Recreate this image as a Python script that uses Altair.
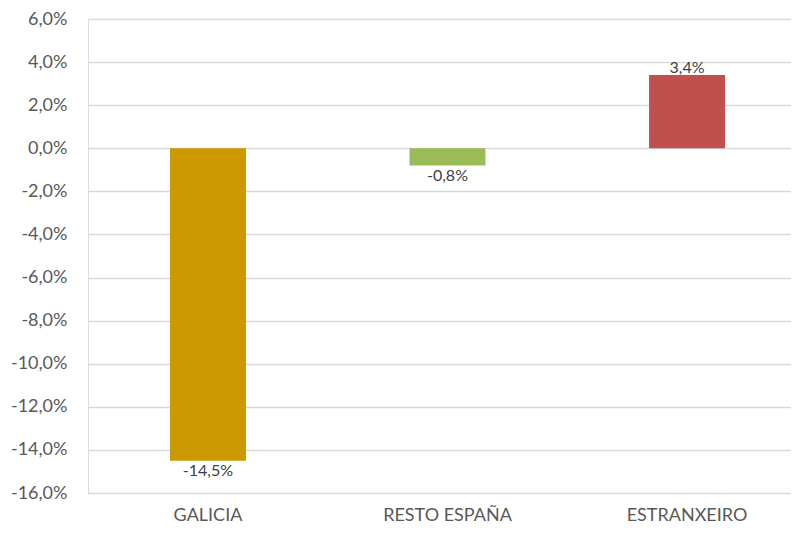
import altair as alt
import pandas as pd

categories = ["GALICIA", "RESTO ESPAÑA", "ESTRANXEIRO"]
values = [-0.145, -0.008, 0.034]
colors = ["#CC9900", "#9BBB59", "#C0504D"]
y_ticks = [-0.16, -0.14, -0.12, -0.10, -0.08, -0.06, -0.04, -0.02, 0, 0.02, 0.04, 0.06]

df = pd.DataFrame({"cat": categories, "val": values, "col": colors})

FONT = "Lato"
fmt = "replace(replace(format({v}, '.1%'), '.', ','), '\u2212', '-')"

xscale = alt.Scale(paddingInner=0.683, paddingOuter=0.309, align=0.554)
yscale = alt.Scale(domain=[-0.16, 0.06], nice=False, zero=False)

x_enc = alt.X("cat:N", sort=categories, title=None, scale=xscale,
              axis=alt.Axis(labelAngle=0, ticks=False, domain=False, grid=False,
                            labelFont=FONT, labelFontSize=18, labelColor="#595959",
                            labelPadding=13))
y_enc = alt.Y("val:Q", title=None, scale=yscale,
              axis=alt.Axis(values=y_ticks,
                            labelExpr=fmt.format(v="datum.value"),
                            ticks=False, domain=False, grid=True,
                            gridColor="#d9d9d9", gridWidth=1.5,
                            labelFont=FONT, labelFontSize=18, labelColor="#595959",
                            labelPadding=21))

base = alt.Chart(df).encode(x=x_enc, y=y_enc)

bars = base.mark_bar().encode(
    color=alt.Color("col:N", scale=None),
)

neg_text = base.transform_filter("datum.val < 0").transform_calculate(
    lab=fmt.format(v="datum.val")
).mark_text(baseline="alphabetic", dy=15, font=FONT, fontSize=16, color="#404040").encode(
    text="lab:N")

pos_text = base.transform_filter("datum.val >= 0").transform_calculate(
    lab=fmt.format(v="datum.val")
).mark_text(baseline="alphabetic", dy=-2.5, font=FONT, fontSize=16, color="#404040").encode(
    text="lab:N")

chart = alt.layer(bars, neg_text, pos_text).properties(
    width=703, height=474,
    autosize=alt.AutoSizeParams(type="none"),
    padding={"left": 80, "top": 11, "right": 0, "bottom": 32},
).configure_view(strokeWidth=0, stroke="transparent").configure(background="white")

chart.save("out.html", embed_options={"renderer": "svg", "actions": False})
